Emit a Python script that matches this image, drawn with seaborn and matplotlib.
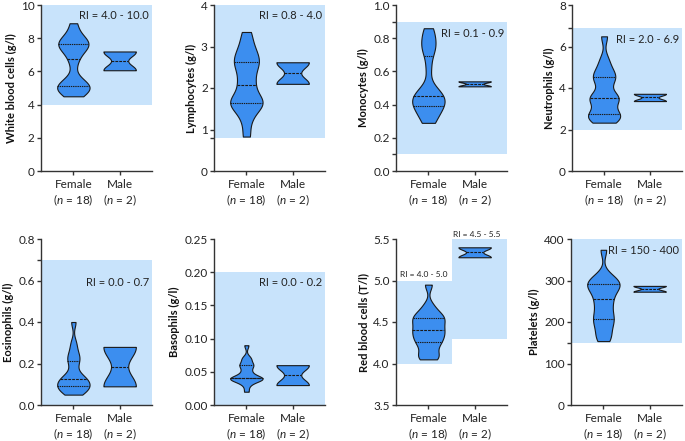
import numpy as np
import pandas as pd
import matplotlib
matplotlib.use("Agg")
import matplotlib.pyplot as plt
import seaborn as sns

# ---------------- data ----------------
groups = ["Female", "Male"]
group_labels = ["Female\n($\\mathit{n}$ = 18)", "Male\n($\\mathit{n}$ = 2)"]

ylabels = ["White blood cells (g/l)", "Lymphocytes (g/l)", "Monocytes (g/l)",
           "Neutrophils (g/l)", "Eosinophils (g/l)", "Basophils (g/l)",
           "Red blood cells (T/l)", "Platelets (g/l)"]

wbc_f = [4.5, 4.7, 4.9, 5.0, 5.1, 5.1, 5.3, 5.6, 6.5, 7.0, 7.3, 7.5, 7.6, 7.7, 7.8, 8.0, 8.3, 8.9]
wbc_m = [6.07, 7.2]
lym_f = [0.83, 1.2, 1.45, 1.55, 1.62, 1.66, 1.72, 1.8, 2.0, 2.15, 2.3, 2.5, 2.6, 2.65, 2.8, 2.9, 3.1, 3.35]
lym_m = [2.1, 2.62]
mono_f = [0.29, 0.31, 0.35, 0.38, 0.39, 0.39, 0.42, 0.44, 0.45, 0.45, 0.47, 0.5, 0.62, 0.72, 0.74, 0.78, 0.82, 0.86]
mono_m = [0.51, 0.54]
neut_f = [2.33, 2.45, 2.6, 2.7, 2.72, 2.8, 3.3, 3.45, 3.5, 3.58, 3.65, 4.2, 4.45, 4.55, 4.7, 5.0, 5.4, 6.49]
neut_m = [3.37, 3.72]
eos_f = [0.05, 0.06, 0.07, 0.08, 0.09, 0.09, 0.10, 0.11, 0.12, 0.13, 0.13, 0.15, 0.19, 0.22, 0.23, 0.26, 0.30, 0.40]
eos_m = [0.09, 0.28]
baso_f = [0.02, 0.03, 0.035, 0.04, 0.04, 0.04, 0.04, 0.04, 0.04, 0.04, 0.05, 0.05, 0.06, 0.06, 0.06, 0.07, 0.07, 0.09]
baso_m = [0.03, 0.06]
rbc_f = [4.05, 4.08, 4.12, 4.2, 4.25, 4.28, 4.32, 4.36, 4.38, 4.42, 4.45, 4.5, 4.52, 4.56, 4.58, 4.62, 4.7, 4.95]
rbc_m = [5.28, 5.40]
plt_f = [154, 165, 180, 195, 205, 212, 225, 240, 250, 262, 275, 282, 288, 292, 296, 305, 312, 374]
plt_m = [273, 287]

female = [wbc_f, lym_f, mono_f, neut_f, eos_f, baso_f, rbc_f, plt_f]
male = [wbc_m, lym_m, mono_m, neut_m, eos_m, baso_m, rbc_m, plt_m]

ylims = [(0, 10), (0, 4), (0, 1.0), (0, 8), (0, 0.8), (0, 0.25), (3.5, 5.5), (0, 400)]
yticks = [[0, 2, 4, 6, 8, 10], [0, 1, 2, 3, 4], [0, 0.2, 0.4, 0.6, 0.8, 1.0], [0, 2, 4, 6, 8],
          [0, 0.2, 0.4, 0.6, 0.8], [0, 0.05, 0.10, 0.15, 0.20, 0.25], [3.5, 4.0, 4.5, 5.0, 5.5],
          [0, 100, 200, 300, 400]]
ytick_fmt = ["{:.0f}", "{:.0f}", "{:.1f}", "{:.0f}", "{:.1f}", "{:.2f}", "{:.1f}", "{:.0f}"]
ri_low = [4.0, 0.8, 0.1, 2.0, 0.0, 0.0, 4.0, 150]
ri_high = [10.0, 4.0, 0.9, 6.9, 0.7, 0.2, 5.0, 400]
ri_text = ["RI = 4.0 - 10.0", "RI = 0.8 - 4.0", "RI = 0.1 - 0.9", "RI = 2.0 - 6.9",
           "RI = 0.0 - 0.7", "RI = 0.0 - 0.2", "RI = 4.0 - 5.0", "RI = 150 - 400"]
rbc_male_ri = (4.3, 5.5)
rbc_male_text = "RI = 4.5 - 5.5"

# ---------------- style / layout ----------------
sns.set_theme(style="ticks")
plt.rcParams["font.family"] = ["Lato", "DejaVu Sans"]
plt.rcParams["mathtext.fontset"] = "custom"
plt.rcParams["mathtext.it"] = "Lato:italic"
plt.rcParams["mathtext.rm"] = "Lato"

VIOLIN = "#3C8EEF"
BAND = "#C8E3FB"
INK = "#333333"

W, H = 685, 441
fig = plt.figure(figsize=(W / 100, H / 100), dpi=100)

lefts = [41, 214, 396, 572, 41, 214, 396, 571]
widths = [111, 111, 111, 110, 111, 111, 111, 111]
tops = [5, 5, 5, 5, 239, 239, 239, 239]
ax_h = 166
text_y = [9.35, 3.74, 0.83, 6.35, 0.59, 0.184, None, 372]

for i in range(8):
    l, w, t = lefts[i], widths[i], tops[i]
    ax = fig.add_axes([l / W, (H - t - ax_h) / H, w / W, ax_h / H])
    df = pd.DataFrame({
        "group": ["Female"] * len(female[i]) + ["Male"] * len(male[i]),
        "value": list(female[i]) + list(male[i]),
    })
    # reference interval band(s)
    if i == 6:
        ax.fill_between([-0.7, 0.5], ri_low[i], ri_high[i], color=BAND, lw=0, zorder=0)
        ax.fill_between([0.5, 1.7], rbc_male_ri[0], rbc_male_ri[1], color=BAND, lw=0, zorder=0)
    else:
        ax.axhspan(ri_low[i], ri_high[i], color=BAND, lw=0, zorder=0)

    sns.violinplot(data=df, x="group", y="value", order=groups, ax=ax,
                   cut=0, inner="quart", density_norm="width", bw_adjust=0.5,
                   width=0.7, color=VIOLIN, saturation=1, linecolor="#1a1a1a",
                   linewidth=0.8, inner_kws={"linewidth": 0.8})
    # with only two males, the quartiles coincide with the ends: keep only the median line
    med_m = float(np.median(male[i]))
    for ln in list(ax.lines):
        xd = np.asarray(ln.get_xdata(), dtype=float)
        yd = np.asarray(ln.get_ydata(), dtype=float)
        if len(xd) and abs(xd.mean() - 1) < 0.01 and not np.isclose(yd.mean(), med_m):
            ln.remove()

    ax.set_xlim(-0.7, 1.7)
    ax.set_ylim(*ylims[i])
    ax.set_yticks(yticks[i])
    ax.set_yticklabels([ytick_fmt[i].format(v) for v in yticks[i]])
    minor = [v for v in (ri_low[i], ri_high[i]) if v not in yticks[i] and ylims[i][0] < v <= ylims[i][1]]
    ax.set_yticks(minor, minor=True)
    ax.set_xticks([0, 1])
    ax.set_xticklabels(group_labels)
    ax.set_xlabel("")
    ax.set_ylabel(ylabels[i], fontsize=8, fontweight="bold", color="#111111", labelpad=3)
    for s in ("top", "right"):
        ax.spines[s].set_visible(False)
    for s in ("left", "bottom"):
        ax.spines[s].set_color(INK)
        ax.spines[s].set_linewidth(1.0)
    ax.tick_params(axis="both", which="both", colors=INK, labelcolor="#222222",
                   length=3, width=1.0, labelsize=8.5, pad=1.5)
    ax.tick_params(axis="x", labelsize=8.5, pad=3)

    if i == 6:
        ax.text(-0.1, 5.03, ri_text[i], ha="center", va="bottom", fontsize=6, color="#222222")
        ax.text(1.05, 5.51, rbc_male_text, ha="center", va="bottom", fontsize=6,
                color="#222222", clip_on=False)
    else:
        ax.text(1.64, text_y[i], ri_text[i], ha="right", va="center", fontsize=8, color="#222222")

fig.savefig("out.png", dpi=100)
